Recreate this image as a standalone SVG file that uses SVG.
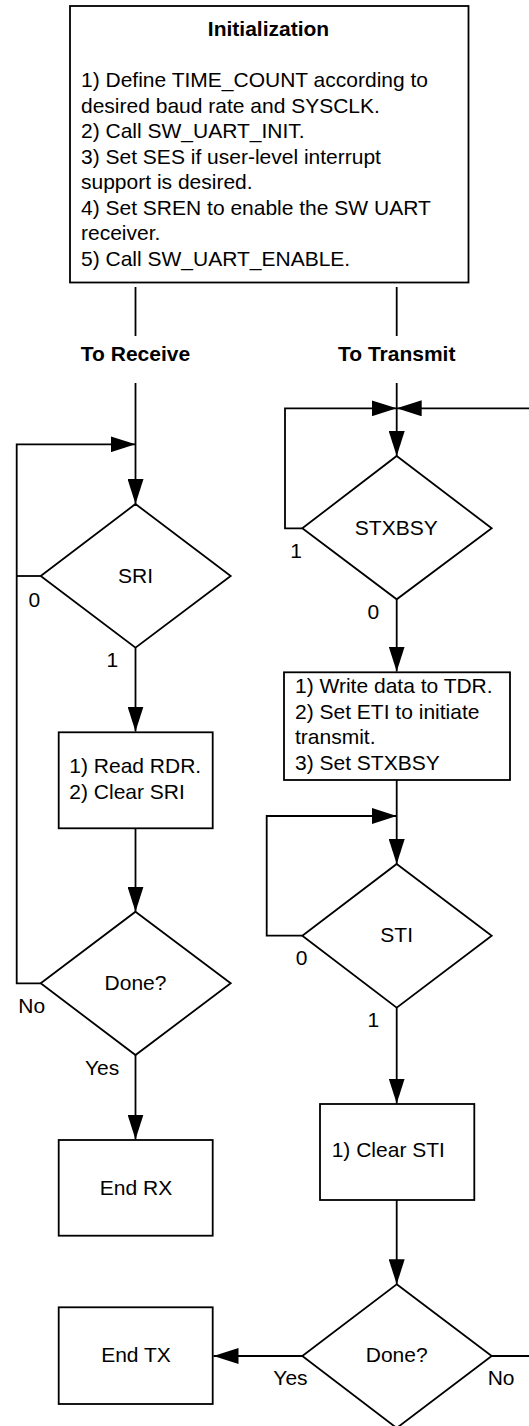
<svg xmlns="http://www.w3.org/2000/svg" width="529" height="1426" viewBox="0 0 529 1426">
<style>
text{font-family:"Liberation Sans",Arial,sans-serif;font-size:21px;fill:#000}
.b{font-weight:bold}
.m{text-anchor:middle}
.s{fill:#fff;stroke:#000;stroke-width:1.8}
.c{fill:none;stroke:#000;stroke-width:1.8}
</style>
<defs>
<marker id="ah" markerUnits="userSpaceOnUse" markerWidth="26" markerHeight="16" refX="25" refY="8" orient="auto" viewBox="0 0 26 16">
<path d="M0,0 L25,8 L0,16 z" fill="#000"/>
</marker>
</defs>
<rect width="529" height="1426" fill="#fff"/>
<g id="connectors">
<line class="c" x1="135.5" y1="287" x2="135.5" y2="336"/>
<line class="c" x1="396.7" y1="287" x2="396.7" y2="336"/>
<line class="c" x1="135.5" y1="383" x2="135.5" y2="504" marker-end="url(#ah)"/>
<polyline class="c" points="40.7,576 16.7,576"/>
<polyline class="c" points="40.7,983.3 16.7,983.3 16.7,444.3 135.5,444.3" marker-end="url(#ah)"/>
<line class="c" x1="135.5" y1="647.7" x2="135.5" y2="731.5" marker-end="url(#ah)"/>
<line class="c" x1="135.5" y1="828.3" x2="135.5" y2="911.7" marker-end="url(#ah)"/>
<line class="c" x1="135.5" y1="1055" x2="135.5" y2="1139.5" marker-end="url(#ah)"/>
<line class="c" x1="396.7" y1="383" x2="396.7" y2="456" marker-end="url(#ah)"/>
<polyline class="c" points="302.3,528.3 285,528.3 285,408.3 396.7,408.3" marker-end="url(#ah)"/>
<polyline class="c" points="491.7,1356 529,1356"/>
<line class="c" x1="529" y1="408.3" x2="396.7" y2="408.3" marker-end="url(#ah)"/>
<line class="c" x1="396.7" y1="599.3" x2="396.7" y2="671.5" marker-end="url(#ah)"/>
<line class="c" x1="396.7" y1="780" x2="396.7" y2="864" marker-end="url(#ah)"/>
<polyline class="c" points="302.3,935.7 266.7,935.7 266.7,816 396.7,816" marker-end="url(#ah)"/>
<line class="c" x1="396.7" y1="1007.7" x2="396.7" y2="1103.5" marker-end="url(#ah)"/>
<line class="c" x1="396.7" y1="1200" x2="396.7" y2="1284.3" marker-end="url(#ah)"/>
<line class="c" x1="302.3" y1="1356" x2="213.5" y2="1356" marker-end="url(#ah)"/>
</g>
<g id="init">
<rect class="s" x="70" y="6" width="398.5" height="276.5"/>
<text class="b m" x="268.5" y="36">Initialization</text>
<text x="81" y="87.3">1) Define TIME_COUNT according to</text>
<text x="81" y="112.7">desired baud rate and SYSCLK.</text>
<text x="81" y="138.3">2) Call SW_UART_INIT.</text>
<text x="81" y="163.7">3) Set SES if user-level interrupt</text>
<text x="81" y="189.2">support is desired.</text>
<text x="81" y="214.7">4) Set SREN to enable the SW UART</text>
<text x="81" y="240.2">receiver.</text>
<text x="81" y="265.7">5) Call SW_UART_ENABLE.</text>
</g>
<g id="to-receive"><text class="b m" x="135.5" y="360.7">To Receive</text></g>
<g id="to-transmit"><text class="b m" x="396.7" y="360.7">To Transmit</text></g>
<g id="sri">
<polygon class="s" points="135.5,504 230.7,576 135.5,647.7 40.7,576"/>
<text class="m" x="135.5" y="582.7">SRI</text>
<text class="m" x="34.3" y="606.7">0</text>
<text class="m" x="112.3" y="666.7">1</text>
</g>
<g id="read">
<rect class="s" x="58.7" y="732.3" width="154" height="96"/>
<text x="69.3" y="773.3">1) Read RDR.</text>
<text x="69.3" y="799">2) Clear SRI</text>
</g>
<g id="done-rx">
<polygon class="s" points="135.5,911.7 230.7,983.3 135.5,1055 40.7,983.3"/>
<text class="m" x="135.5" y="990">Done?</text>
<text x="18.3" y="1013.3">No</text>
<text x="85" y="1075">Yes</text>
</g>
<g id="end-rx">
<rect class="s" x="58.7" y="1140" width="154" height="95.7"/>
<text class="m" x="136" y="1195">End RX</text>
</g>
<g id="stxbsy">
<polygon class="s" points="396.7,456 491.7,528.3 396.7,599.3 302.3,528.3"/>
<text class="m" x="396.3" y="535">STXBSY</text>
<text class="m" x="296" y="558.3">1</text>
<text class="m" x="373.3" y="619.3">0</text>
</g>
<g id="write">
<rect class="s" x="284" y="672.3" width="226" height="107.7"/>
<text x="295" y="693.3">1) Write data to TDR.</text>
<text x="295" y="719">2) Set ETI to initiate</text>
<text x="295" y="744.3">transmit.</text>
<text x="295" y="770">3) Set STXBSY</text>
</g>
<g id="sti">
<polygon class="s" points="396.7,864 491.7,935.7 396.7,1007.7 302.3,935.7"/>
<text class="m" x="396.7" y="941.7">STI</text>
<text class="m" x="301.7" y="965">0</text>
<text class="m" x="373.3" y="1026.7">1</text>
</g>
<g id="clear-sti">
<rect class="s" x="320" y="1104" width="154.3" height="96"/>
<text x="331.7" y="1157.3">1) Clear STI</text>
</g>
<g id="done-tx">
<polygon class="s" points="396.7,1284.3 491.7,1356 396.7,1428 302.3,1356"/>
<text class="m" x="396.7" y="1361.7">Done?</text>
<text x="273.3" y="1385">Yes</text>
<text x="487.7" y="1385">No</text>
</g>
<g id="end-tx">
<rect class="s" x="58.7" y="1307.3" width="154" height="96.7"/>
<text class="m" x="136" y="1361.7">End TX</text>
</g>
</svg>
